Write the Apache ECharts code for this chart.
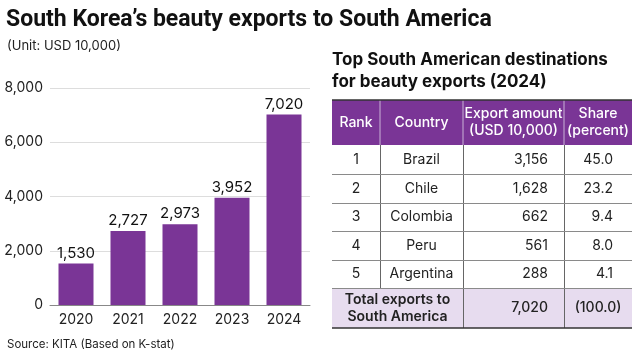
<!DOCTYPE html>
<html><head><meta charset="utf-8">
<script src="https://cdn.jsdelivr.net/npm/echarts@6/dist/echarts.min.js"></script>
<style>html,body{margin:0;padding:0;background:#fff;}#c{width:640px;height:357px;}</style>
</head><body><div id="c"></div>
<script>
var years = ['2020','2021','2022','2023','2024'];
var exportsVal = [1530, 2727, 2973, 3952, 7020];
var yTicks = [0, 2000, 4000, 6000, 8000];

var tblHeaders = ['Rank', 'Country', 'Export amount\n(USD 10,000)', 'Share\n(percent)'];
var ranks = ['1','2','3','4','5'];
var countries = ['Brazil','Chile','Colombia','Peru','Argentina'];
var amounts = ['3,156','1,628','662','561','288'];
var shares = ['45.0','23.2','9.4','8.0','4.1'];
var totalLabel = 'Total exports to\nSouth America';
var totalAmount = '7,020';
var totalShare = '(100.0)';

var PURPLE = '#7a3596';
var FONT = 'Inter, "Liberation Sans", sans-serif';

// table layout
var colX = [332, 380, 463, 564, 632];
var headTop = 100, headBot = 145;
var rowY = [145, 174, 203, 231, 260, 288];
var totBot = 328;

var g = [];
g.push({type:'rect', shape:{x:colX[0], y:headTop, width:colX[4]-colX[0], height:headBot-headTop}, style:{fill:PURPLE}});
g.push({type:'rect', shape:{x:colX[0], y:rowY[5], width:colX[4]-colX[0], height:totBot-rowY[5]}, style:{fill:'#e7dcef'}});
for (var i=1;i<4;i++) g.push({type:'line', shape:{x1:colX[i], y1:headTop, x2:colX[i], y2:headBot}, style:{stroke:'#c9b3d6', lineWidth:1}});
for (var i=1;i<4;i++) {
  var yEnd = (i===1) ? rowY[5] : totBot;
  g.push({type:'line', shape:{x1:colX[i]+0.5, y1:headBot, x2:colX[i]+0.5, y2:yEnd}, style:{stroke:'#666', lineWidth:1}});
}
for (var r=1;r<rowY.length;r++) g.push({type:'line', shape:{x1:colX[0], y1:rowY[r]+0.5, x2:colX[4], y2:rowY[r]+0.5}, style:{stroke:'#8a8a8a', lineWidth:1}});
g.push({type:'line', shape:{x1:colX[0], y1:headTop, x2:colX[4], y2:headTop}, style:{stroke:'#333', lineWidth:1.5}});
g.push({type:'line', shape:{x1:colX[0], y1:totBot, x2:colX[4], y2:totBot}, style:{stroke:'#333', lineWidth:1.5}});
for (var i=0;i<4;i++) {
  g.push({type:'text', x:(colX[i]+colX[i+1])/2, y:(headTop+headBot)/2, style:{text:tblHeaders[i], fill:'#fff', font:'500 14px '+FONT, align:'center', verticalAlign:'middle', lineHeight:17}});
}
for (var r=0;r<ranks.length;r++) {
  var cy = (rowY[r]+rowY[r+1])/2;
  g.push({type:'text', x:(colX[0]+colX[1])/2, y:cy, style:{text:ranks[r], fill:'#222', font:'14px '+FONT, align:'center', verticalAlign:'middle'}});
  g.push({type:'text', x:(colX[1]+colX[2])/2, y:cy, style:{text:countries[r], fill:'#222', font:'14px '+FONT, align:'center', verticalAlign:'middle'}});
  g.push({type:'text', x:548, y:cy, style:{text:amounts[r], fill:'#222', font:'14px '+FONT, align:'right', verticalAlign:'middle'}});
  g.push({type:'text', x:613, y:cy, style:{text:shares[r], fill:'#222', font:'14px '+FONT, align:'right', verticalAlign:'middle'}});
}
var ty = (rowY[5]+totBot)/2;
g.push({type:'text', x:(colX[0]+colX[2])/2, y:ty, style:{text:totalLabel, fill:'#222', font:'600 14px '+FONT, align:'center', verticalAlign:'middle', lineHeight:17}});
g.push({type:'text', x:548, y:ty, style:{text:totalAmount, fill:'#222', font:'500 14px '+FONT, align:'right', verticalAlign:'middle'}});
g.push({type:'text', x:(colX[3]+colX[4])/2, y:ty, style:{text:totalShare, fill:'#222', font:'500 14px '+FONT, align:'center', verticalAlign:'middle'}});

g.push({type:'text', x:6, y:20, style:{text:'South Korea\u2019s beauty exports to South America', fill:'#111', font:'bold 23px Roboto, '+FONT, verticalAlign:'middle'}});
g.push({type:'text', x:7, y:46, style:{text:'(Unit: USD 10,000)', fill:'#222', font:'13px '+FONT, verticalAlign:'middle'}});
g.push({type:'text', x:332, y:60, style:{text:'Top South American destinations', fill:'#111', font:'bold 17px '+FONT, verticalAlign:'middle'}});
g.push({type:'text', x:332, y:82, style:{text:'for beauty exports (2024)', fill:'#111', font:'bold 17px '+FONT, verticalAlign:'middle'}});
g.push({type:'text', x:7, y:345, style:{text:'Source: KITA (Based on K-stat)', fill:'#222', font:'11.5px '+FONT, verticalAlign:'middle'}});

var chart = echarts.init(document.getElementById('c'), null, {renderer:'canvas'});
chart.setOption({
  animation:false,
  backgroundColor:'#fff',
  grid:{left:50, right:330, top:88, bottom:52, containLabel:false},
  xAxis:{type:'category', data:years, axisTick:{show:false},
    axisLine:{lineStyle:{color:'#888', width:1}},
    axisLabel:{color:'#222', fontSize:14, fontFamily:FONT, margin:8}},
  yAxis:{type:'value', min:yTicks[0], max:yTicks[yTicks.length-1], interval:2000,
    axisLabel:{color:'#222', fontSize:14, fontFamily:FONT, margin:7,
      formatter:function(v){return v.toLocaleString('en-US');}},
    splitLine:{lineStyle:{color:'#ddd'}}, axisLine:{show:false}, axisTick:{show:false}},
  series:[{type:'bar', data:exportsVal, barWidth:35, itemStyle:{color:PURPLE},
    label:{show:true, position:'top', distance:3, color:'#111', fontSize:15, fontFamily:FONT,
      formatter:function(p){return p.value.toLocaleString('en-US');}}}],
  graphic:g
});
</script></body></html>
